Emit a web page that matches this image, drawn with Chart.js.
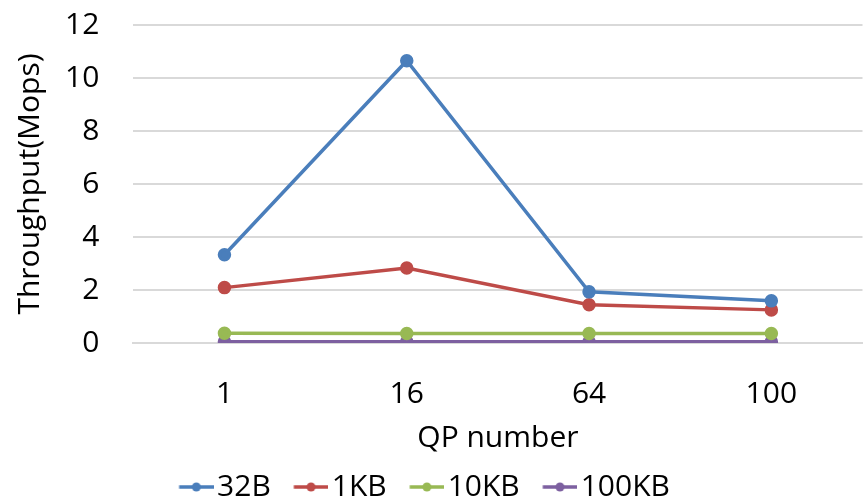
<!DOCTYPE html>
<html>
<head>
<meta charset="utf-8">
<script src="https://cdn.jsdelivr.net/npm/chart.js@4"></script>
<style>
  html, body { margin: 0; padding: 0; background: #fff; overflow: hidden; }
  #wrap { width: 871px; height: 499px; }
</style>
</head>
<body>
<div id="wrap"><canvas id="myChart"></canvas></div>
<script>
// data
const qpNumbers = ['1', '16', '64', '100'];
const tput32B = [3.33, 10.65, 1.93, 1.59];
const tput1KB = [2.09, 2.83, 1.44, 1.25];
const tput10KB = [0.37, 0.36, 0.36, 0.36];
const tput100KB = [0.05, 0.05, 0.05, 0.05];
const yTicks = [0, 2, 4, 6, 8, 10, 12];

const colors = ['#4a7ebb', '#be4b48', '#98b954', '#7d60a0'];
const font = "Open Sans";
const fsize = 30;

// little line + dot image for the legend, like excel does
// (drawn off-centre so the text sits close to the mark)
function legendMark(color) {
    const c = document.createElement('canvas');
    c.width = 46; c.height = 12;
    const g = c.getContext('2d');
    g.strokeStyle = color;
    g.lineWidth = 3.5;
    g.beginPath(); g.moveTo(11.5, 6); g.lineTo(46, 6); g.stroke();
    g.fillStyle = color;
    g.beginPath(); g.arc(28.75, 6, 4.5, 0, Math.PI * 2); g.fill();
    return c;
}

function series(label, data, i) {
    return {
        label: label,
        data: data,
        borderColor: colors[i],
        backgroundColor: colors[i],
        borderWidth: 3.5,
        pointRadius: 5,
        pointHoverRadius: 5,
        tension: 0
    };
}

// move the legend a bit left, like in the picture
const shiftLegend = {
    id: 'shiftLegend',
    afterLayout: function(chart) {
        chart.legend.left -= 17;
        chart.legend.right -= 17;
    }
};

const ctx = document.getElementById('myChart').getContext('2d');
const myChart = new Chart(ctx, {
    type: 'line',
    data: {
        labels: qpNumbers,
        datasets: [
            series('32B', tput32B, 0),
            series('1KB', tput1KB, 1),
            series('10KB', tput10KB, 2),
            series('100KB', tput100KB, 3)
        ]
    },
    plugins: [shiftLegend],
    options: {
        responsive: true,
        maintainAspectRatio: false,
        animation: false,
        layout: { padding: { top: 0, left: 12, right: 0, bottom: -13 } },
        plugins: {
            tooltip: { enabled: false },
            legend: {
                position: 'bottom',
                align: 'center',
                labels: {
                    usePointStyle: true,
                    pointStyleWidth: 23,
                    boxHeight: 12,
                    padding: 23,
                    color: '#000',
                    font: { family: font, size: fsize },
                    generateLabels: function(chart) {
                        return chart.data.datasets.map(function(ds, i) {
                            return {
                                text: ds.label,
                                pointStyle: legendMark(colors[i]),
                                fillStyle: colors[i],
                                strokeStyle: colors[i],
                                lineWidth: 0,
                                datasetIndex: i,
                                fontColor: '#000'
                            };
                        });
                    }
                }
            }
        },
        scales: {
            x: {
                offset: true,
                afterFit: function(axis) {
                    axis.paddingLeft = 0;
                    axis.paddingRight = 0;
                },
                grid: { display: false },
                border: { color: '#d9d9d9', width: 2 },
                ticks: { color: '#000', font: { family: font, size: fsize }, padding: 25 },
                title: { display: true, text: 'QP number', color: '#000', font: { family: font, size: fsize }, padding: { top: -17, bottom: -7 } }
            },
            y: {
                min: 0,
                max: 12,
                afterBuildTicks: function(axis) {
                    axis.ticks = yTicks.map(v => ({ value: v }));
                },
                afterFit: function(axis) {
                    axis.paddingTop = 25;
                    axis.paddingBottom = 0;
                },
                grid: { color: '#d9d9d9', lineWidth: 2, drawTicks: false },
                border: { display: false },
                ticks: { color: '#000', font: { family: font, size: fsize }, padding: 34 },
                title: { display: true, text: 'Throughput(Mops)', color: '#000', font: { family: font, size: fsize }, padding: { top: 0, bottom: -17 } }
            }
        }
    }
});
</script>
</body>
</html>
